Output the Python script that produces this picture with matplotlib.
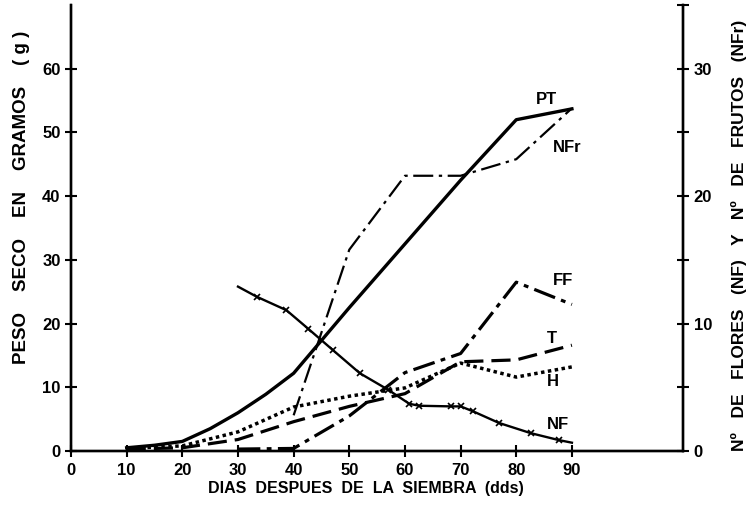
import matplotlib
matplotlib.use("Agg")
import matplotlib.pyplot as plt
from matplotlib.ticker import MultipleLocator

plt.rcParams["font.family"] = ["Liberation Sans", "DejaVu Sans"]
plt.rcParams["font.weight"] = "bold"

# peso seco (g), eje izquierdo
pt_days = [10, 15, 20, 25, 30, 35, 40, 50, 60, 70, 80, 90]
pt = [0.5, 0.9, 1.5, 3.5, 6.0, 8.9, 12.2, 22.5, 32.5, 42.5, 52.0, 53.7]
days = [10, 20, 30, 40, 50, 60, 70, 80, 90]
t_vals = [0.3, 0.5, 1.8, 4.6, 7.0, 9.0, 14.0, 14.3, 16.6]
h_vals = [0.4, 0.8, 3.0, 6.9, 8.6, 9.9, 13.8, 11.6, 13.2]
ff_days = [30, 40, 50, 60, 70, 80, 90]
ff_vals = [0.3, 0.4, 5.5, 12.3, 15.3, 26.5, 23.0]

# numero de frutos y flores, eje derecho
nfr_days = [40, 50, 60, 70, 80, 90]
nfr_vals = [2.8, 15.8, 21.6, 21.6, 22.9, 26.9]
nf_days = [30, 33.4, 38.7, 42.6, 47.1, 51.9, 57, 60.8, 62.6, 68.3, 70, 72.3, 76.9, 82.6, 87.6, 90]
nf_vals = [12.9, 12.1, 11.05, 9.6, 7.9, 6.1, 4.8, 3.7, 3.55, 3.5, 3.5, 3.1, 2.2, 1.4, 0.86, 0.65]

fig = plt.figure(figsize=(7.49, 5.23), dpi=100)
ax = fig.add_axes([0.0948, 0.1377, 0.8174, 0.8527])
ax2 = ax.twinx()

ax.plot(pt_days, pt, color="black", lw=2.4)
ax.plot(days, t_vals, color="black", lw=2.3, dashes=(6, 2.5))
ax.plot(days, h_vals, color="black", lw=2.5, dashes=(1, 1))
ax.plot(ff_days, ff_vals, color="black", lw=2.3, dashes=(7, 2, 1.5, 2))
ax2.plot(nfr_days, nfr_vals, color="black", lw=1.6, dashes=(9, 2.5, 1.5, 2.5))
ax2.plot(nf_days, nf_vals, color="black", lw=1.7, marker="x", ms=5, mew=1.2,
         markevery=list(range(1, len(nf_days) - 1)))

ax.set_xlim(0, 110)
ax.set_ylim(0, 70)
ax2.set_ylim(0, 35)

ax.set_xticks(range(0, 100, 10))
ax.set_yticks(range(0, 70, 10))
ax2.set_yticks([0, 10, 20, 30])
ax2.yaxis.set_minor_locator(MultipleLocator(5))

for a in (ax, ax2):
    a.spines["top"].set_visible(False)
    for s in a.spines.values():
        s.set_linewidth(1.7)
    a.tick_params(which="both", direction="inout", length=8, width=1.5, labelsize=12)
ax.tick_params(axis="x", pad=5)

ax.text(83.5, 54.5, "PT", fontsize=12)
ax.text(86.5, 47.0, "NFr", fontsize=12)
ax.text(86.5, 26.0, "FF", fontsize=12)
ax.text(85.5, 17.0, "T", fontsize=12)
ax.text(85.5, 10.2, "H", fontsize=12)
ax.text(85.5, 3.5, "NF", fontsize=12)

fig.text(0.489, 0.066, "DIAS  DESPUES  DE  LA  SIEMBRA  (dds)", fontsize=11.5,
         ha="center", va="center")
fig.text(0.029, 0.623, "PESO    SECO    EN    GRAMOS    ( g )", fontsize=13.5, rotation=90,
         ha="center", va="center")
fig.text(0.986, 0.549, "Nº   DE   FLORES   (NF)   Y   Nº   DE   FRUTOS   (NFr)", fontsize=12.5,
         rotation=90, ha="center", va="center")

fig.savefig("out.png", dpi=100)
